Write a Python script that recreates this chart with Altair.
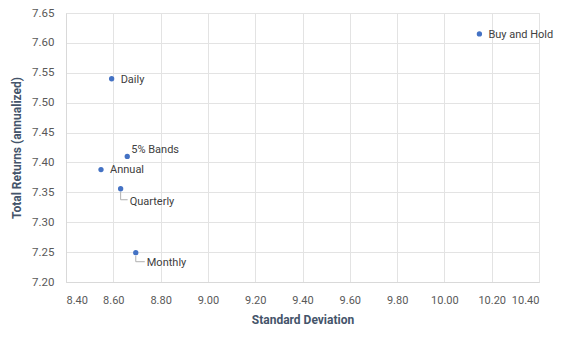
import altair as alt
import pandas as pd

names = ["Buy and Hold", "Daily", "5% Bands", "Annual", "Quarterly", "Monthly"]
std_dev = [10.148, 8.593, 8.659, 8.548, 8.631, 8.695]
returns = [7.615, 7.540, 7.410, 7.388, 7.356, 7.249]

x_ticks = [8.40, 8.60, 8.80, 9.00, 9.20, 9.40, 9.60, 9.80, 10.00, 10.20, 10.40]
y_ticks = [7.20, 7.25, 7.30, 7.35, 7.40, 7.45, 7.50, 7.55, 7.60, 7.65]

df = pd.DataFrame({"name": names, "sd": std_dev, "ret": returns})

FONT = "Roboto"
TXT = "#595959"
TITLE = "#44546A"

x = alt.X("sd:Q", scale=alt.Scale(domain=[8.40, 10.40], nice=False, zero=False),
          axis=alt.Axis(values=x_ticks, format=".2f", title="Standard Deviation",
                        grid=True, gridColor="#e3e3e3", domainColor="#d9d9d9",
                        ticks=False, labelPadding=12, labelFontSize=11, labelColor=TXT,
                        labelFont=FONT, titleFont=FONT, titleFontSize=12,
                        titleColor=TITLE, titleFontWeight="bold", titlePadding=9))
y = alt.Y("ret:Q", scale=alt.Scale(domain=[7.20, 7.65], nice=False, zero=False),
          axis=alt.Axis(values=y_ticks, format=".2f", title="Total Returns (annualized)",
                        grid=True, gridColor="#e3e3e3", domainColor="#d9d9d9",
                        ticks=False, labelPadding=12, labelFontSize=11.5, labelColor=TXT,
                        labelFont=FONT, titleFont=FONT, titleFontSize=12,
                        titleColor=TITLE, titleFontWeight="bold", titlePadding=8))

base = alt.Chart(df).encode(x=x, y=y)

points = base.mark_circle(size=28, color="#4472C4", opacity=1)

offsets = {
    "Buy and Hold": (9, 1),
    "Daily": (9, 1),
    "5% Bands": (4, -6),
    "Annual": (9, 0),
    "Quarterly": (9, 13),
    "Monthly": (11, 10),
}

labels = []
for n, (dx, dy) in offsets.items():
    labels.append(
        base.transform_filter(alt.datum.name == n).mark_text(
            align="left", baseline="middle", dx=dx, dy=dy, font=FONT,
            fontSize=11, color="#404040").encode(text="name:N")
    )

leaders = []
for n, (vx, hx2, hy) in {"Quarterly": (0, 7, 11), "Monthly": (0, 9, 9)}.items():
    sub = base.transform_filter(alt.datum.name == n)
    leaders.append(sub.mark_rule(color="#b0b0b0", strokeWidth=1, yOffset=3, y2Offset=hy,
                                 xOffset=vx, x2Offset=vx).encode(x2="sd:Q", y2="ret:Q"))
    leaders.append(sub.mark_rule(color="#b0b0b0", strokeWidth=1, yOffset=hy, y2Offset=hy,
                                 xOffset=vx, x2Offset=hx2).encode(x2="sd:Q", y2="ret:Q"))

chart = alt.layer(*leaders, points, *labels).properties(
    width=473, height=269,
    autosize=alt.AutoSizeParams(type="none"),
    padding={"left": 66, "top": 13, "right": 26, "bottom": 57},
).configure_view(stroke=None).configure(background="white")

chart.save("out.html", embed_options={"renderer": "svg", "actions": False})
